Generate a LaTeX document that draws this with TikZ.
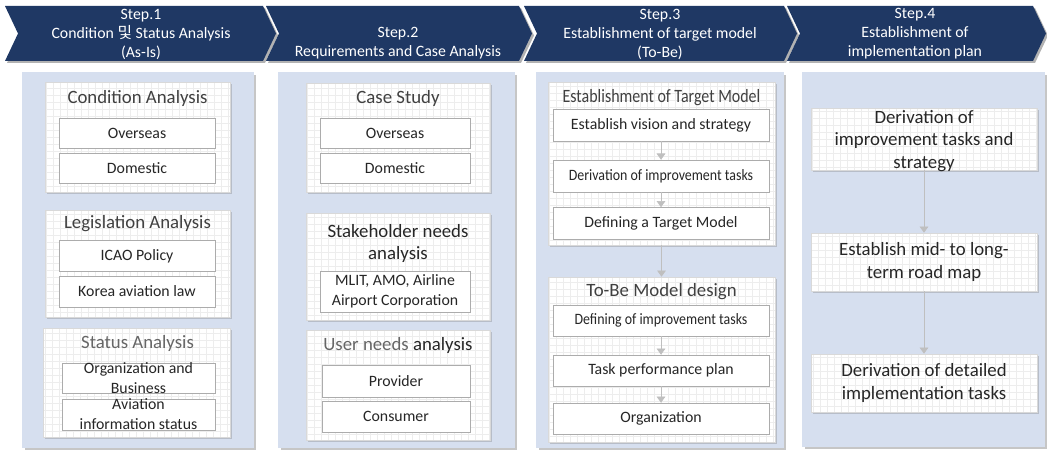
\documentclass[tikz,border=0pt]{standalone}
\usepackage{fontspec}
\setmainfont{Carlito}
\newfontfamily\kofont{Noto Sans CJK KR}
\usetikzlibrary{arrows.meta,shadows}

\definecolor{navy}{RGB}{31,56,100}
\definecolor{panelblue}{RGB}{214,223,239}
\newcommand{\tight}[2][0.85]{\scalebox{#1}[1]{#2}}

\begin{document}
\begin{tikzpicture}[x=0.02cm, y=-0.02cm,
    head/.style={text=white, align=center, font=\fontsize{9}{10.8}\selectfont},
    panel/.style={fill=panelblue, drop shadow={shadow xshift=0.05cm, shadow yshift=-0.05cm, opacity=0.45}},
    group/.style={fill=white, draw=gray!30, drop shadow={shadow xshift=0.04cm, shadow yshift=-0.04cm, opacity=0.35},
        path picture={\draw[gray!14, step=0.14cm] (path picture bounding box.south west) grid (path picture bounding box.north east);}},
    title/.style={text=black!75, align=center, font=\fontsize{10.7}{13}\selectfont},
    item/.style={fill=white, draw=gray!65, inner sep=0pt, text=black!85, align=center, font=\fontsize{9}{11.3}\selectfont},
    flow/.style={draw=gray!50, -{Triangle[width=5pt,length=3.5pt]}}]
    \useasboundingbox (0,0) rectangle (1047,452);

    % Step headers
    \foreach \xa/\wd in {5/258, 266/253, 524/260, 787/246} {
        \fill[gray!60, shift={(2,2)}] (\xa,6) -- ++(\wd,0) -- ++(13,27.5) -- ++(-13,27.5) -- ++(-\wd,0) -- ++(13,-27.5) -- cycle;
        \fill[navy] (\xa,6) -- ++(\wd,0) -- ++(13,27.5) -- ++(-13,27.5) -- ++(-\wd,0) -- ++(13,-27.5) -- cycle;
    }
    \node[head] (h1) at (141,34) {Step.1\\Condition {\kofont 및} Status Analysis\\(As-Is)};
    \node[head] (h2) at (398,43) {Step.2\\Requirements and Case Analysis};
    \node[head] (h3) at (660,34) {Step.3\\Establishment of target model\\(To-Be)};
    \node[head] (h4) at (915,34) {Step.4\\Establishment of\\implementation plan};

    % Panels
    \node[panel, minimum width=4.64cm, minimum height=7.52cm] (p1) at (138,260) {};
    \node[panel, minimum width=4.74cm, minimum height=7.52cm] (p2) at (396.5,260) {};
    \node[panel, minimum width=4.96cm, minimum height=7.52cm] (p3) at (660,260) {};
    \node[panel, minimum width=4.86cm, minimum height=7.50cm] (p4) at (923.5,259.5) {};

    % Step 1
    \node[group, minimum width=3.7cm, minimum height=2.2cm] (cond) at (137.5,137) {};
    \node[title] (condt) at (137.5,98) {Condition Analysis};
    \node[item, minimum width=3.12cm, minimum height=0.6cm] (cond1) at (137,133) {Overseas};
    \node[item, minimum width=3.12cm, minimum height=0.6cm] (cond2) at (137,168) {Domestic};

    \node[group, minimum width=3.7cm, minimum height=2.14cm] (legis) at (137.5,263.5) {};
    \node[title] (legist) at (137.5,224) {Legislation Analysis};
    \node[item, minimum width=3.12cm, minimum height=0.62cm] (legis1) at (137,256) {ICAO Policy};
    \node[item, minimum width=3.12cm, minimum height=0.62cm] (legis2) at (137,291.5) {Korea aviation law};

    \node[group, minimum width=3.74cm, minimum height=2.18cm] (stat) at (136.5,382.5) {};
    \node[title, text=black!60] (statt) at (137.5,343) {Status Analysis};
    \node[item, minimum width=3.06cm, minimum height=0.6cm] (stat1) at (138.5,378) {};
    \node[item, draw=none, fill=none] (stat1t) at (stat1.center) {Organization and\\Business};
    \node[item, minimum width=3.06cm, minimum height=0.62cm] (stat2) at (138.5,414.5) {};
    \node[item, draw=none, fill=none] (stat2t) at (stat2.center) {Aviation\\information status};

    % Step 2
    \node[group, minimum width=3.68cm, minimum height=2.18cm] (case) at (398,137.5) {};
    \node[title] (caset) at (398,98) {Case Study};
    \node[item, minimum width=3.0cm, minimum height=0.6cm] (case1) at (395,133) {Overseas};
    \node[item, minimum width=3.0cm, minimum height=0.6cm] (case2) at (395,168) {Domestic};

    \node[group, minimum width=3.68cm, minimum height=2.14cm] (stake) at (398,266.5) {};
    \node[title, text=black!85] (staket) at (398,243.5) {Stakeholder needs\\analysis};
    \node[item, minimum width=3.0cm, minimum height=0.82cm] (stake1) at (395,291.5) {MLIT, AMO, Airline\\Airport Corporation};

    \node[group, minimum width=3.68cm, minimum height=2.2cm] (user) at (398,385) {};
    \node[title, text=black!85] (usert) at (398,345) {{\color{black!60}User needs} analysis};
    \node[item, minimum width=2.96cm, minimum height=0.64cm] (user1) at (396,381) {Provider};
    \node[item, minimum width=2.96cm, minimum height=0.62cm] (user2) at (396,416.5) {Consumer};

    % Step 3
    \node[group, minimum width=4.54cm, minimum height=3.26cm] (tm) at (661.5,163.5) {};
    \node[title] (tmt) at (661.5,98) {\tight{Establishment of Target Model}};
    \node[item, minimum width=4.32cm, minimum height=0.64cm] (tm1) at (661,125) {Establish vision and strategy};
    \node[item, minimum width=4.32cm, minimum height=0.64cm] (tm2) at (661,176) {\tight[0.88]{Derivation of improvement tasks}};
    \node[item, minimum width=4.32cm, minimum height=0.64cm] (tm3) at (661,223.5) {Defining a Target Model};

    \node[group, minimum width=4.54cm, minimum height=3.3cm] (tb) at (661.5,359.5) {};
    \node[title] (tbt) at (661.5,292) {To-Be Model design};
    \node[item, minimum width=4.32cm, minimum height=0.62cm] (tb1) at (661,320.5) {\tight[0.88]{Defining of improvement tasks}};
    \node[item, minimum width=4.32cm, minimum height=0.62cm] (tb2) at (661,370.5) {Task performance plan};
    \node[item, minimum width=4.32cm, minimum height=0.62cm] (tb3) at (661,418.5) {Organization};

    % Step 4
    \node[group, minimum width=4.52cm, minimum height=1.24cm] (im1) at (924,139) {};
    \node[title, text=black!85, inner sep=0pt] (im1t) at (924,141) {Derivation of\\improvement tasks and\\strategy};
    \node[group, title, text=black!85, minimum width=4.52cm, minimum height=1.16cm] (im2) at (924,262) {Establish mid- to long-\\term road map};
    \node[group, title, text=black!85, minimum width=4.52cm, minimum height=1.16cm] (im3) at (924,383) {Derivation of detailed\\implementation tasks};

    % Connections
    \draw[flow] (tm1) -- (tm2);
    \draw[flow] (tm2) -- (tm3);
    \draw[flow] (tm) -- (tb);
    \draw[flow] (tb1) -- (tb2);
    \draw[flow] (tb2) -- (tb3);
    \draw[flow] (im1) -- (im2);
    \draw[flow] (im2) -- (im3);
\end{tikzpicture}
\end{document}
